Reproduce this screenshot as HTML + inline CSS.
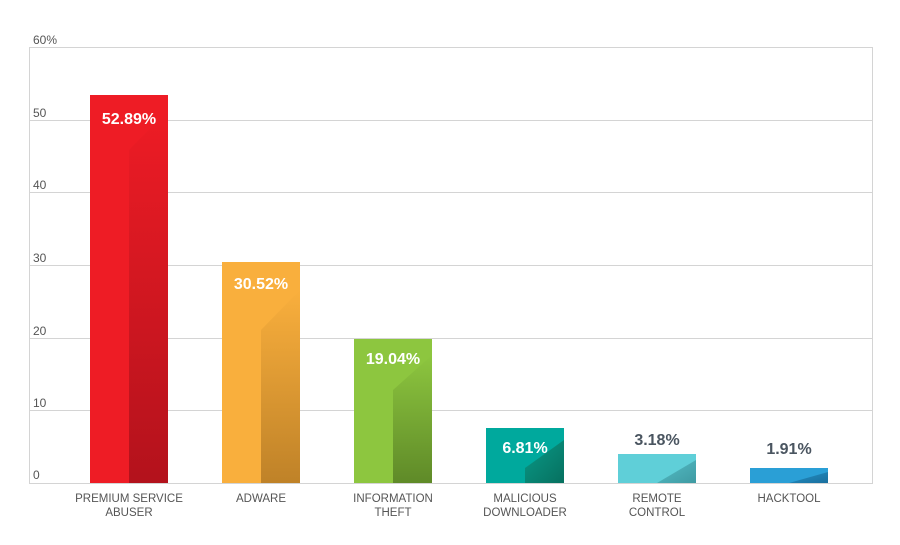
<!DOCTYPE html>
<html><head><style>
body{margin:0;background:#fff;}
svg text{font-family:"Liberation Sans",sans-serif;}
</style></head><body>
<svg width="900" height="540" viewBox="0 0 900 540" xmlns="http://www.w3.org/2000/svg">
<defs>
<linearGradient id="g1" x1="0" y1="0" x2="0" y2="1"><stop offset="0" stop-color="#ee1c25"/><stop offset="1" stop-color="#b3121c"/></linearGradient>
<linearGradient id="g2" x1="0" y1="0" x2="0" y2="1"><stop offset="0" stop-color="#f9af3d"/><stop offset="1" stop-color="#bf8228"/></linearGradient>
<linearGradient id="g3" x1="0" y1="0" x2="0" y2="1"><stop offset="0" stop-color="#8dc63f"/><stop offset="1" stop-color="#5f8a28"/></linearGradient>
<linearGradient id="g4" x1="0" y1="0" x2="1" y2="1"><stop offset="0" stop-color="#0a9a88"/><stop offset="1" stop-color="#06705f"/></linearGradient>
<linearGradient id="g5" x1="0" y1="0" x2="1" y2="1"><stop offset="0" stop-color="#55bfc8"/><stop offset="1" stop-color="#3f9aa2"/></linearGradient>
<linearGradient id="g6" x1="0" y1="0" x2="1" y2="1"><stop offset="0" stop-color="#2390c4"/><stop offset="1" stop-color="#1a6f9e"/></linearGradient>
</defs>
<g stroke="#d4d4d4" stroke-width="1">
<rect x="29.5" y="47.5" width="843" height="436" fill="none"/>
<line x1="29" y1="120.5" x2="872" y2="120.5"/>
<line x1="29" y1="192.5" x2="872" y2="192.5"/>
<line x1="29" y1="265.5" x2="872" y2="265.5"/>
<line x1="29" y1="338.5" x2="872" y2="338.5"/>
<line x1="29" y1="410.5" x2="872" y2="410.5"/>
</g>
<g fill="#555" font-size="12">
<text x="33" y="44">60%</text>
<text x="33" y="117">50</text>
<text x="33" y="189">40</text>
<text x="33" y="262">30</text>
<text x="33" y="335">20</text>
<text x="33" y="407">10</text>
<text x="33" y="479">0</text>
</g>
<!-- bars -->
<rect x="90" y="95" width="78" height="388" fill="#ee1c25"/>
<polygon points="129,483 129,150 168,110 168,483" fill="url(#g1)"/>
<rect x="222" y="262" width="78" height="221" fill="#f9af3d"/>
<polygon points="261,483 261,330 300,290 300,483" fill="url(#g2)"/>
<rect x="354" y="339" width="78" height="144" fill="#8dc63f"/>
<polygon points="393,483 393,390 432,355 432,483" fill="url(#g3)"/>
<rect x="486" y="428" width="78" height="55" fill="#00a99d"/>
<polygon points="525,483 525,468 564,440 564,483" fill="url(#g4)"/>
<rect x="618" y="454" width="78" height="29" fill="#5fcfd8"/>
<polygon points="657,483 696,460 696,483" fill="url(#g5)"/>
<rect x="750" y="468" width="78" height="15" fill="#2a9fd6"/>
<polygon points="789,483 828,472 828,483" fill="url(#g6)"/>
<g font-size="16" font-weight="bold" text-anchor="middle">
<text x="129" y="124" fill="#fff">52.89%</text>
<text x="261" y="289" fill="#fff">30.52%</text>
<text x="393" y="364" fill="#fff">19.04%</text>
<text x="525" y="453" fill="#fff">6.81%</text>
<text x="657" y="445" fill="#4a5560">3.18%</text>
<text x="789" y="454" fill="#4a5560">1.91%</text>
</g>
<g fill="#555" font-size="11.5" text-anchor="middle">
<text x="129" y="502">PREMIUM SERVICE</text><text x="129" y="516">ABUSER</text>
<text x="261" y="502">ADWARE</text>
<text x="393" y="502">INFORMATION</text><text x="393" y="516">THEFT</text>
<text x="525" y="502">MALICIOUS</text><text x="525" y="516">DOWNLOADER</text>
<text x="657" y="502">REMOTE</text><text x="657" y="516">CONTROL</text>
<text x="789" y="502">HACKTOOL</text>
</g>
</svg>
</body></html>
